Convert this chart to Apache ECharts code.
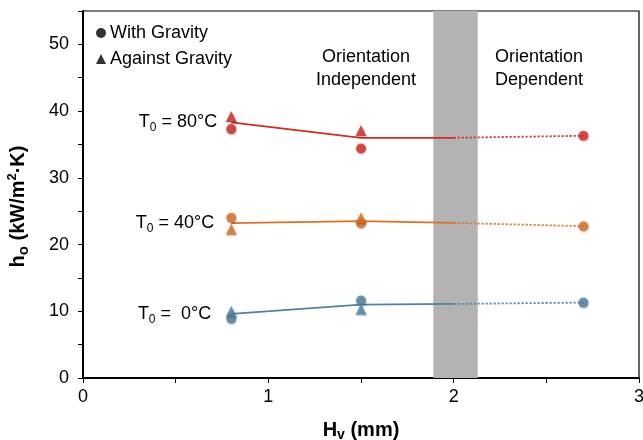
<!DOCTYPE html>
<html>
<head>
<meta charset="utf-8">
<script src="https://cdn.jsdelivr.net/npm/echarts@6/dist/echarts.min.js"></script>
<style>
  html, body { margin: 0; padding: 0; background: #fff; }
  #chart { width: 643px; height: 440px; }
</style>
</head>
<body>
<div id="chart"></div>
<script>
// data
var xPts = [0.8, 1.5, 2.7];          // measured H_v
var xTri = [0.8, 1.5];
var xFit = [0.8, 1.5, 2.0];          // solid trend
var xExt = [2.0, 2.7];               // dotted extension

var with80 = [37.3, 34.4, 36.3]
    , against80 = [39.2, 37.1]
    , fit80 = [38.3, 36.0, 36.0];
var with40 = [24.0, 23.2, 22.75]
    , against40 = [22.3, 24.0]
    , fit40 = [23.2, 23.5, 23.25];
var with0 = [8.9, 11.6, 11.3]
    , against0 = [10.0, 10.3]
    , fit0 = [9.6, 11.0, 11.1];

var bandRange = [1.89, 2.13];
var labels = ['T{sub|0} = 80°C', 'T{sub|0} = 40°C', 'T{sub|0} =  0°C'];
var colors = ['#d42a1f', '#df7023', '#4f83a2'];

var font = 'Liberation Sans, Arial, Helvetica, sans-serif';
var subRich = {
    sub: { fontSize: 12, fontFamily: font, color: '#000', padding: [11, 0, 0, 0], verticalAlign: 'bottom' }
};

var groups = [
    { w: with80, a: against80, f: fit80, c: colors[0], lab: labels[0], dist: 14 },
    { w: with40, a: against40, f: fit40, c: colors[1], lab: labels[1], dist: 17 },
    { w: with0, a: against0, f: fit0, c: colors[2], lab: labels[2], dist: 20 }
];

var shadow = { shadowBlur: 2, shadowColor: 'rgba(0,0,0,0.35)', shadowOffsetX: 0.5, shadowOffsetY: 1 };

var series = [];

// grey transition band
series.push({
    type: 'line',
    data: [],
    z: 1,
    silent: true,
    markArea: {
        silent: true,
        itemStyle: { color: '#b3b3b3', opacity: 1 },
        data: [[{ xAxis: bandRange[0] }, { xAxis: bandRange[1] }]]
    }
});

var withData = [], againstData = [];
groups.forEach(function (g) {
    // solid trend line, label at its first point
    series.push({
        type: 'line',
        z: 3,
        showSymbol: true,
        symbol: 'circle',
        symbolSize: 0,
        lineStyle: { color: g.c, width: 1.8 },
        itemStyle: { color: g.c },
        data: xFit.map(function (x, i) {
            var d = { value: [x, g.f[i]] };
            if (i == 0) {
                d.label = {
                    show: true,
                    position: 'left',
                    distance: g.dist,
                    formatter: g.lab,
                    color: '#000',
                    fontSize: 18,
                    fontFamily: font,
                    rich: subRich
                };
            }
            return d;
        })
    });
    // dotted extension
    series.push({
        type: 'line',
        z: 3,
        showSymbol: false,
        lineStyle: { color: g.c, width: 1.8, type: [2, 2] },
        data: [[xExt[0], g.f[2]], [xExt[1], g.w[2]]]
    });
    xPts.forEach(function (x, i) {
        withData.push({ value: [x, g.w[i]], itemStyle: Object.assign({ color: g.c }, shadow) });
    });
    xTri.forEach(function (x, i) {
        againstData.push({ value: [x, g.a[i]], itemStyle: Object.assign({ color: g.c }, shadow) });
    });
});

series.push({
    name: 'With Gravity',
    type: 'scatter',
    z: 4,
    symbol: 'circle',
    symbolSize: 10,
    itemStyle: { color: '#000' },
    data: withData
});
series.push({
    name: 'Against Gravity',
    type: 'scatter',
    z: 4,
    symbol: 'triangle',
    symbolSize: 11,
    itemStyle: { color: '#000' },
    data: againstData
});

var chart = echarts.init(document.getElementById('chart'), null, { renderer: 'canvas' });
chart.setOption({
    animation: false,
    backgroundColor: '#fff',
    textStyle: { fontFamily: font },
    grid: {
        left: 83, right: 4, top: 11, bottom: 62,
        outerBoundsMode: 'none',
        containLabel: false,
        show: true, borderColor: '#000', borderWidth: 1.2, backgroundColor: 'transparent'
    },
    legend: {
        data: ['With Gravity', 'Against Gravity'],
        orient: 'vertical',
        left: 91,
        top: 19,
        itemWidth: 10,
        itemHeight: 10,
        itemGap: 8,
        selectedMode: false,
        textStyle: { fontSize: 18, color: '#000', fontFamily: font, padding: [0, 0, 0, -1] }
    },
    xAxis: {
        type: 'value',
        min: 0, max: 3, interval: 0.5,
        name: 'H{sub|v} (mm)',
        nameLocation: 'middle',
        nameGap: 40,
        nameTextStyle: {
            fontSize: 20, fontWeight: 'bold', color: '#000', fontFamily: font,
            rich: { sub: { fontSize: 14, fontWeight: 'bold', fontFamily: font, color: '#000', padding: [10, 0, 0, 0], verticalAlign: 'bottom' } }
        },
        splitLine: { show: false },
        axisLine: { lineStyle: { color: '#000', width: 2 } },
        axisTick: { length: 5, lineStyle: { color: '#000', width: 1 } },
        axisLabel: {
            fontSize: 18, color: '#000', margin: 10, fontFamily: font,
            formatter: function (v) { return v % 1 === 0 ? String(v) : ''; }
        }
    },
    yAxis: {
        type: 'value',
        min: 0, max: 55, interval: 5,
        name: 'h{sub|o} (kW/m{sup|2}·K)',
        nameLocation: 'middle',
        nameGap: 52,
        nameTextStyle: {
            fontSize: 20, fontWeight: 'bold', color: '#000', fontFamily: font,
            padding: [0, 24, 0, 0],
            rich: {
                sub: { fontSize: 15, fontWeight: 'bold', fontFamily: font, color: '#000', padding: [10, 0, 0, 0], verticalAlign: 'bottom' },
                sup: { fontSize: 13, fontWeight: 'bold', fontFamily: font, color: '#000', padding: [0, 0, 10, 0], verticalAlign: 'top' }
            }
        },
        splitLine: { show: false },
        axisLine: { lineStyle: { color: '#000', width: 2 } },
        axisTick: { length: 5, lineStyle: { color: '#000', width: 1 } },
        axisLabel: {
            fontSize: 18, color: '#000', margin: 14, fontFamily: font,
            formatter: function (v) { return v % 10 === 0 ? String(v) : ''; }
        }
    },
    graphic: [
        {
            type: 'text',
            style: { text: 'Orientation\nIndependent', x: 366, y: 46, align: 'center', fontSize: 18, lineHeight: 23, fill: '#000', fontFamily: font }
        },
        {
            type: 'text',
            style: { text: 'Orientation\nDependent', x: 539, y: 46, align: 'center', fontSize: 18, lineHeight: 23, fill: '#000', fontFamily: font }
        }
    ],
    series: series
});
</script>
</body>
</html>
